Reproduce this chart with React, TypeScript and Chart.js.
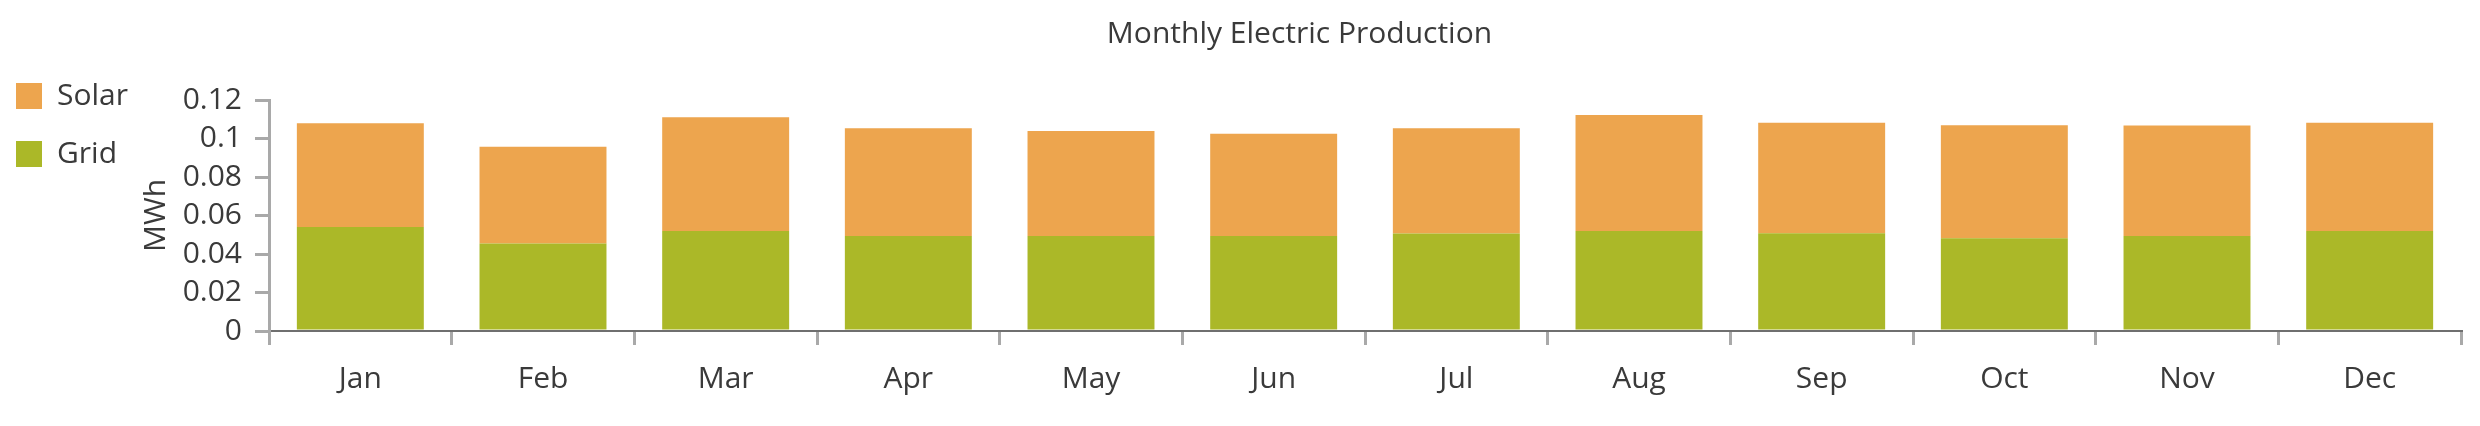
import React, { useEffect, useRef } from 'react';
import { Chart, registerables } from 'chart.js';

Chart.register(...registerables);

const chartTitle = 'Monthly Electric Production';
const yAxisTitle = 'MWh';
const months = ['Jan', 'Feb', 'Mar', 'Apr', 'May', 'Jun', 'Jul', 'Aug', 'Sep', 'Oct', 'Nov', 'Dec'];
const gridValues = [0.054, 0.0455, 0.052, 0.0493, 0.0493, 0.0493, 0.0507, 0.052, 0.0508, 0.0482, 0.0493, 0.052];
const solarValues = [0.0539, 0.0502, 0.059, 0.056, 0.0546, 0.0532, 0.0546, 0.0602, 0.0574, 0.0587, 0.0574, 0.0562];
const yTicks = [0, 0.02, 0.04, 0.06, 0.08, 0.1, 0.12];

const FONT = "'Open Sans', 'Noto Sans', sans-serif";
const TEXT = '#3a3a3a';
const AXIS_GRAY = '#a9a9a9';

const titleShift = {
  id: 'titleShift',
  afterLayout(chart: any) {
    const tb = chart.titleBlock;
    const lg = chart.legend;
    if (tb && lg) tb.left = lg.right;
  },
};

export default function App() {
  const ref = useRef<HTMLCanvasElement>(null);

  useEffect(() => {
    document.body.style.margin = '0';
    const canvas = ref.current;
    if (!canvas) return;
    const chart = new Chart(canvas, {
      type: 'bar',
      data: {
        labels: months,
        datasets: [
          { label: 'Grid', data: gridValues, backgroundColor: '#ABB828', borderWidth: 0 },
          { label: 'Solar', data: solarValues, backgroundColor: '#EDA54E', borderWidth: 0 },
        ],
      },
      plugins: [titleShift],
      options: {
        responsive: false,
        animation: false,
        devicePixelRatio: 1,
        layout: { padding: { left: 0, right: 19, top: 0, bottom: 13 } },
        datasets: { bar: { categoryPercentage: 1, barPercentage: 0.695 } },
        plugins: {
          tooltip: { enabled: false },
          title: {
            display: true,
            text: chartTitle,
            color: TEXT,
            font: { family: FONT, size: 30, weight: 'normal', lineHeight: 1.2 },
            padding: { top: 16, bottom: 48 },
          },
          legend: {
            display: true,
            position: 'left',
            align: 'start',
            title: { display: true, text: '', font: { size: 10, lineHeight: 1 }, padding: { top: 55, bottom: 0 } },
            labels: {
              color: TEXT,
              font: { family: FONT, size: 30, lineHeight: 1.4 },
              boxWidth: 26,
              boxHeight: 26,
              padding: 16,
              generateLabels: (c: any) => {
                const items = (Chart.defaults.plugins.legend.labels as any).generateLabels(c);
                return items.reverse().map((it: any) => ({ ...it, text: [it.text], lineWidth: 0 }));
              },
            },
          },
        },
        scales: {
          x: {
            stacked: true,
            border: { display: true, color: '#6f6f6f', width: 2 },
            grid: {
              display: true,
              offset: true,
              drawOnChartArea: false,
              drawTicks: true,
              tickLength: 14,
              color: AXIS_GRAY,
              lineWidth: 3,
            },
            ticks: { padding: 16, color: TEXT, font: { family: FONT, size: 30 }, autoSkip: false, maxRotation: 0 },
          },
          y: {
            stacked: true,
            min: 0,
            max: 0.12,
            afterBuildTicks: (s: any) => {
              s.ticks = yTicks.map((v) => ({ value: v }));
            },
            afterFit: (s: any) => {
              const lw = s.chart.legend ? s.chart.legend.width : 0;
              s.width = 269 - lw;
            },
            border: { display: true, color: AXIS_GRAY, width: 3 },
            grid: {
              display: true,
              drawOnChartArea: false,
              drawTicks: true,
              tickLength: 14,
              color: AXIS_GRAY,
              lineWidth: 3,
            },
            ticks: {
              padding: 13,
              color: TEXT,
              autoSkip: false,
              font: { family: FONT, size: 30 },
              callback: (v: any) => String(v),
            },
            title: {
              display: true,
              text: yAxisTitle,
              color: TEXT,
              font: { family: FONT, size: 30 },
              padding: { top: 0, bottom: 0 },
            },
          },
        },
      },
    } as any);
    return () => chart.destroy();
  }, []);

  return (
    <div style={{ width: 2480, height: 426, background: '#fff' }}>
      <canvas ref={ref} width={2480} height={426} style={{ display: 'block' }} />
    </div>
  );
}
